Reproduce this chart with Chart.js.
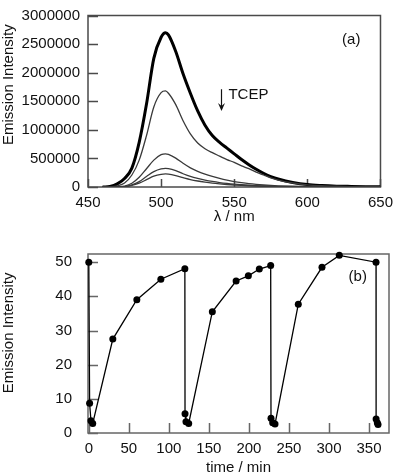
<!DOCTYPE html>
<html>
<head>
<meta charset="utf-8">
<script src="https://cdn.jsdelivr.net/npm/chart.js@4/dist/chart.umd.min.js"></script>
<style>
  body { margin: 0; background: #fff; }
  canvas { position: absolute; left: 0; }
  #spectra_chart { top: 0; }
  #time_chart { top: 230px; }
</style>
</head>
<body>
<canvas id="spectra_chart" width="401" height="230"></canvas>
<canvas id="time_chart" width="401" height="245"></canvas>
<script>
// panel (a): emission spectra, quenched step by step with TCEP
const wavelengths = [460, 465, 470, 475, 480, 485, 490, 495, 500, 503, 505, 510, 515, 520, 525, 530, 535,
                     540, 545, 550, 555, 560, 565, 570, 575, 580, 590, 600, 610, 620, 630, 640, 650];
const spec_0 = [0, 10000, 55000, 150000, 330000, 780000, 1450000, 2250000, 2620000, 2700000, 2660000, 2370000, 1980000,
                1640000, 1330000, 1080000, 900000, 780000, 680000, 580000, 480000, 390000, 310000, 240000, 180000,
                140000, 80000, 42000, 25000, 15000, 10000, 6000, 4000];
const spec_1 = [0, 3000, 20000, 70000, 210000, 470000, 900000, 1400000, 1650000, 1680000, 1640000, 1440000, 1160000,
                930000, 770000, 670000, 600000, 540000, 480000, 430000, 370000, 320000, 260000, 210000, 160000,
                120000, 70000, 38000, 22000, 13000, 8000, 5000, 3000];
const spec_2 = [0, 1000, 4000, 16000, 65000, 170000, 320000, 470000, 565000, 580000, 570000, 505000, 415000,
                335000, 275000, 225000, 185000, 150000, 120000, 95000, 75000, 58000, 45000, 35000, 27000,
                21000, 13000, 8000, 5000, 4000, 3000, 2000, 1500];
const spec_3 = [0, 500, 2000, 8000, 38000, 95000, 185000, 270000, 318000, 325000, 320000, 285000, 232000,
                185000, 150000, 122000, 98000, 78000, 62000, 49000, 39000, 31000, 24000, 19000, 15000,
                12000, 8000, 5000, 3500, 2500, 2000, 1500, 1000];
const spec_4 = [0, 300, 1500, 6000, 27000, 68000, 128000, 190000, 222000, 228000, 224000, 198000, 163000,
                130000, 105000, 85000, 68000, 55000, 44000, 35000, 28000, 22000, 17000, 13000, 10000,
                8000, 5000, 3500, 2500, 2000, 1500, 1000, 800];
const x_ticks_a = [450, 500, 550, 600, 650];
const y_ticks_a = [0, 500000, 1000000, 1500000, 2000000, 2500000, 3000000];

// panel (b): emission intensity over repeated cycles
const time_min = [0, 1, 2.7, 4.9, 30, 60, 90, 120, 120.2, 121.4, 124.8, 154.3, 184, 199.3, 213, 227.2,
                  227.6, 229.7, 232.6, 261.7, 291.3, 312.9, 358.8, 358.9, 360.4, 361.3];
const intensity = [50, 8.7, 3.6, 2.8, 27.5, 39, 45, 48.1, 5.6, 3.3, 2.8, 35.5, 44.5, 46, 48, 49,
                   4.3, 3.0, 2.6, 37.7, 48.5, 52, 50, 4.1, 3.0, 2.5];
const x_ticks_b = [0, 50, 100, 150, 200, 250, 300, 350];
const y_ticks_b = [0, 10, 20, 30, 40, 50];

const font_family = "'Liberation Sans', Arial, sans-serif";
const text_color = '#111';

function to_points(xs, ys) {
    return xs.map((x, i) => ({ x: x, y: ys[i] }));
}

// box round the plot, tick marks pointing inwards, labels drawn on the canvas
const frame_plugin = {
    id: 'frame',
    beforeDatasetsDraw(chart, args, opts) {
        const ctx = chart.ctx;
        const a = chart.chartArea;
        const sx = chart.scales.x;
        const sy = chart.scales.y;
        ctx.save();
        ctx.strokeStyle = opts.color;
        ctx.lineWidth = opts.width;
        ctx.strokeRect(a.left, a.top, a.right - a.left, a.bottom - a.top);
        ctx.beginPath();
        sx.ticks.forEach(t => {
            const px = Math.round(sx.getPixelForValue(t.value)) + 0.5;
            ctx.moveTo(px, a.bottom);
            ctx.lineTo(px, a.bottom - opts.tick_x);
        });
        sy.ticks.forEach(t => {
            const py = Math.round(sy.getPixelForValue(t.value)) + 0.5;
            ctx.moveTo(a.left, py);
            ctx.lineTo(a.left + opts.tick_y, py);
        });
        ctx.stroke();
        ctx.restore();
    },
    afterDraw(chart, args, opts) {
        const ctx = chart.ctx;
        const sx = chart.scales.x;
        const sy = chart.scales.y;
        ctx.save();
        ctx.fillStyle = text_color;
        ctx.font = '15px ' + font_family;
        // y title
        ctx.save();
        ctx.translate(9, sy.getPixelForValue(opts.y_title_at));
        ctx.rotate(-Math.PI / 2);
        ctx.textAlign = 'center';
        ctx.textBaseline = 'middle';
        ctx.fillText('Emission Intensity', 0, 0);
        ctx.restore();
        // panel letter
        ctx.textAlign = 'center';
        ctx.textBaseline = 'middle';
        ctx.fillText(opts.letter, sx.getPixelForValue(opts.letter_at[0]), sy.getPixelForValue(opts.letter_at[1]));
        // arrow with label
        if (opts.arrow) {
            const ax = Math.round(sx.getPixelForValue(opts.arrow.x)) + 0.5;
            const y0 = sy.getPixelForValue(opts.arrow.from);
            const y1 = sy.getPixelForValue(opts.arrow.to);
            ctx.strokeStyle = '#111';
            ctx.lineWidth = 1.2;
            ctx.beginPath();
            ctx.moveTo(ax, y0);
            ctx.lineTo(ax, y1 - 2);
            ctx.stroke();
            ctx.beginPath();
            ctx.moveTo(ax - 3.5, y1 - 8);
            ctx.lineTo(ax, y1);
            ctx.lineTo(ax + 3.5, y1 - 8);
            ctx.lineTo(ax, y1 - 5);
            ctx.closePath();
            ctx.fill();
            ctx.textAlign = 'left';
            ctx.fillText(opts.arrow.label, sx.getPixelForValue(opts.arrow.label_x), sy.getPixelForValue(opts.arrow.label_y));
        }
        ctx.restore();
    }
};

function axis_options(ticks_list, fixed, pad, title) {
    return {
        type: 'linear',
        min: ticks_list.min,
        max: ticks_list.max,
        afterBuildTicks: s => { s.ticks = ticks_list.values.map(v => ({ value: v })); },
        afterFit: fixed,
        grid: { display: false, drawTicks: false },
        border: { display: false },
        ticks: {
            padding: pad,
            color: text_color,
            font: { family: font_family, size: 15, lineHeight: 1 },
            maxRotation: 0,
            autoSkip: false,
            callback: v => String(v)
        },
        title: title
    };
}

const spectra_sets = [spec_4, spec_3, spec_2, spec_1, spec_0].map((s, i, all) => ({
    data: to_points(wavelengths, s),
    borderColor: i === all.length - 1 ? '#000' : '#3a3a3a',
    borderWidth: i === all.length - 1 ? 3 : 1.3,
    pointRadius: 0,
    cubicInterpolationMode: 'monotone',
    fill: false
}));

window.spectraChart = new Chart(document.getElementById('spectra_chart').getContext('2d'), {
    type: 'line',
    data: { datasets: spectra_sets },
    options: {
        responsive: false,
        animation: false,
        events: [],
        layout: { padding: { left: 0, right: 12, top: 8, bottom: 0 } },
        scales: {
            x: axis_options({ min: 450, max: 650, values: x_ticks_a }, s => { s.height = 43; }, 8,
                { display: true, text: 'λ / nm', color: text_color,
                  font: { family: font_family, size: 15, lineHeight: 1 }, padding: { top: 0, bottom: 5.5 } }),
            y: axis_options({ min: 0, max: 3000000, values: y_ticks_a }, s => { s.width = 88; }, 8,
                { display: false })
        },
        plugins: {
            legend: { display: false },
            tooltip: { enabled: false },
            frame: {
                color: '#4a4a4a', width: 1.5, tick_x: 8, tick_y: 10,
                y_title_at: 1790000,
                letter: '(a)', letter_at: [630, 2580000],
                arrow: { x: 541, from: 1710000, to: 1330000, label: 'TCEP', label_x: 546, label_y: 1620000 }
            }
        }
    },
    plugins: [frame_plugin]
});

window.timeChart = new Chart(document.getElementById('time_chart').getContext('2d'), {
    type: 'line',
    data: {
        datasets: [{
            data: to_points(time_min, intensity),
            borderColor: '#000',
            borderWidth: 1.3,
            pointRadius: 3.5,
            pointBackgroundColor: '#000',
            pointBorderWidth: 0,
            lineTension: 0,
            clip: false,
            fill: false
        }]
    },
    options: {
        responsive: false,
        animation: false,
        events: [],
        layout: { padding: { left: 0, right: 12, top: 24, bottom: 0 } },
        scales: {
            x: axis_options({ min: -1, max: 375, values: x_ticks_b }, s => { s.height = 42; }, 8,
                { display: true, text: 'time / min', color: text_color,
                  font: { family: font_family, size: 15, lineHeight: 1 }, padding: { top: 0, bottom: 0 } }),
            y: axis_options({ min: 0, max: 52.4, values: y_ticks_b }, s => { s.width = 88; }, 16,
                { display: false })
        },
        plugins: {
            legend: { display: false },
            tooltip: { enabled: false },
            frame: {
                color: '#666', width: 1.5, tick_x: 10, tick_y: 10,
                y_title_at: 29.3,
                letter: '(b)', letter_at: [336, 45.6]
            }
        }
    },
    plugins: [frame_plugin]
});
</script>
</body>
</html>
